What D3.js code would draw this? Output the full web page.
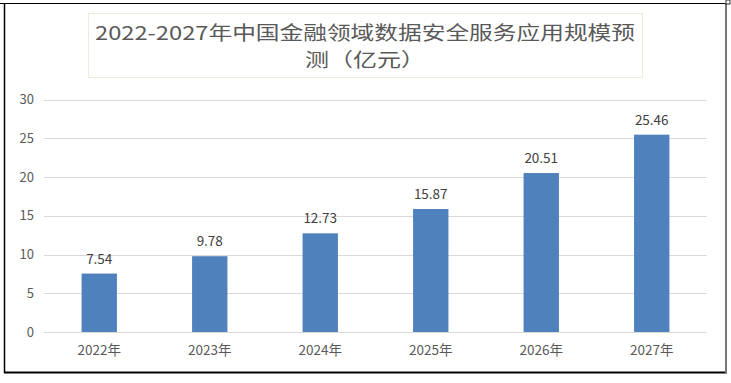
<!DOCTYPE html>
<html><head><meta charset="utf-8">
<script src="https://cdn.jsdelivr.net/npm/d3@7/dist/d3.min.js"></script>
<style>body{margin:0;background:#fff}svg{display:block}</style>
</head><body>
<svg id="c" width="731" height="383"></svg>
<script>
const categories = ["2022年","2023年","2024年","2025年","2026年","2027年"];
const values = [7.54, 9.78, 12.73, 15.87, 20.51, 25.46];
const yTicks = [0,5,10,15,20,25,30];
const titleLines = ["2022-2027年中国金融领域数据安全服务应用规模预","测（亿元）"];

const svg = d3.select("#c");
const font = "'Microsoft YaHei','Noto Sans CJK SC','DejaVu Sans',sans-serif";

// outer frame
svg.append("line").attr("x1",0).attr("x2",727).attr("y1",3.5).attr("y2",3.5).attr("stroke","#000").attr("stroke-width",1);
svg.append("line").attr("x1",4.5).attr("x2",4.5).attr("y1",3).attr("y2",373).attr("stroke","#000").attr("stroke-width",1.5);
svg.append("line").attr("x1",4).attr("x2",727).attr("y1",372.5).attr("y2",372.5).attr("stroke","#000").attr("stroke-width",2);
svg.append("line").attr("x1",726).attr("x2",726).attr("y1",3).attr("y2",373).attr("stroke","#777").attr("stroke-width",2);
svg.append("rect").attr("x",726).attr("y",0).attr("width",4).attr("height",4).attr("fill","#fff").attr("stroke","#000").attr("stroke-width",0.8);

// title box
svg.append("rect").attr("x",88.5).attr("y",13.5).attr("width",554).attr("height",64).attr("fill","#fff").attr("stroke","#efedd9").attr("stroke-width",1);
const titleWidths = [540, 120];
svg.selectAll("text.title").data(titleLines).enter().append("text")
  .attr("class","title")
  .attr("x",365).attr("y",(d,i)=>40+i*27).attr("text-anchor","middle")
  .attr("textLength",(d,i)=>titleWidths[i]).attr("lengthAdjust","spacingAndGlyphs")
  .attr("font-family",font).attr("font-size",19).attr("fill","#595959").text(d=>d);

const x = d3.scaleBand().domain(categories).range([44,707]).paddingInner(0.68).paddingOuter(0.34);
const y = d3.scaleLinear().domain([0,30]).range([332,99.5]);

// gridlines
svg.append("g").selectAll("line").data(yTicks).enter().append("line")
  .attr("x1",44).attr("x2",707).attr("y1",d=>Math.round(y(d))+0.5).attr("y2",d=>Math.round(y(d))+0.5)
  .attr("stroke","#d9d9d9").attr("stroke-width",1);

// y axis labels
const yAxis = d3.axisLeft(y).tickValues(yTicks).tickSize(0).tickPadding(0);
const ya = svg.append("g").attr("transform","translate(34,0)").call(yAxis);
ya.select(".domain").remove();
ya.selectAll("text").attr("font-family",font).attr("font-size",13).attr("fill","#595959");

// bars
svg.append("g").selectAll("rect").data(values).enter().append("rect")
  .attr("x",(d,i)=>x(categories[i])).attr("width",x.bandwidth())
  .attr("y",d=>y(d)).attr("height",d=>y(0)-y(d)).attr("fill","#4f81bd");

// data labels
svg.append("g").selectAll("text").data(values).enter().append("text")
  .attr("x",(d,i)=>x(categories[i])+x.bandwidth()/2).attr("y",d=>y(d)-10)
  .attr("text-anchor","middle").attr("font-family",font).attr("font-size",13.5).attr("fill","#404040")
  .text(d=>d.toFixed(2));

// x axis labels
const xAxis = d3.axisBottom(x).tickSize(0).tickPadding(13);
const xa = svg.append("g").attr("transform","translate(0,332)").call(xAxis);
xa.select(".domain").remove();
xa.selectAll("text").attr("font-family",font).attr("font-size",13.5).attr("fill","#595959");
</script>
</body></html>
